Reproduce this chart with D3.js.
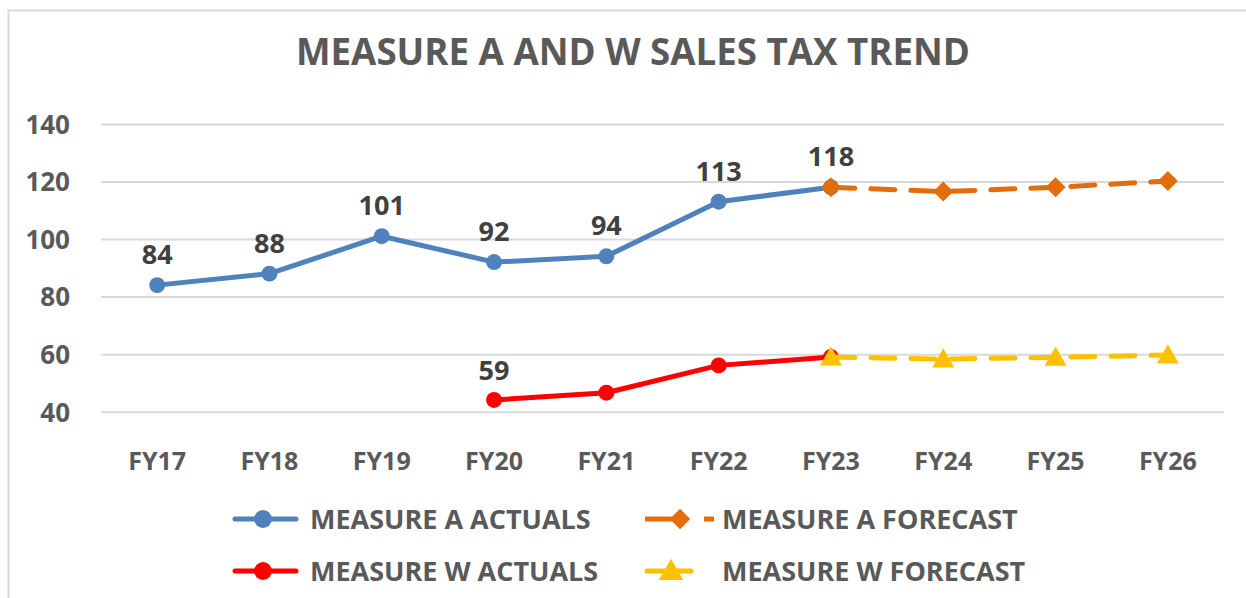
<!DOCTYPE html>
<html>
<head>
<meta charset="utf-8">
<script src="https://cdn.jsdelivr.net/npm/d3@7"></script>
<style>
  html, body { margin: 0; padding: 0; background: #fff; }
  svg { display: block; }
  text { font-family: "Open Sans", Lato, "Liberation Sans", sans-serif; font-weight: 700; }
</style>
</head>
<body>
<svg id="chart" width="1246" height="598"></svg>
<script>
// Fiscal years on the category axis
const years = ["FY17", "FY18", "FY19", "FY20", "FY21", "FY22", "FY23", "FY24", "FY25", "FY26"];
// Measure A (sales tax, $M)
const measureAActuals  = [84, 88, 101, 92, 94, 113, 118, null, null, null];
const measureAForecast = [null, null, null, null, null, null, 118, 116.5, 118, 120.2];
// Measure W (sales tax, $M)
const measureWActuals  = [null, null, null, 44.1, 46.6, 56.1, 59, null, null, null];
const measureWForecast = [null, null, null, null, null, null, 59, 58.3, 58.9, 59.7];
// Value labels: [year whose point the label sits above, value shown]
const aLabels = [["FY17", 84], ["FY18", 88], ["FY19", 101], ["FY20", 92], ["FY21", 94], ["FY22", 113], ["FY23", 118]];
const wLabels = [["FY20", 59]];
const yTicks = [40, 60, 80, 100, 120, 140];
const title = "MEASURE A AND W SALES TAX TREND";

const svg = d3.select("#chart");
const plot = { left: 101, right: 1224, top: 124, bottom: 411.7 };

// outer chart frame (top and left edges visible)
svg.append("path")
  .attr("d", "M8.5,598 V10.5 H1246")
  .attr("fill", "none").attr("stroke", "#d9d9d9").attr("stroke-width", 2);

const x = d3.scaleBand().domain(years).range([plot.left, plot.right]);
const xc = d => x(d) + x.bandwidth() / 2;
const y = d3.scaleLinear().domain([40, 140]).range([plot.bottom, plot.top]);

// title
svg.append("text")
  .attr("x", 296).attr("y", 65)
  .attr("font-size", 38)
  .attr("textLength", 674)
  .attr("lengthAdjust", "spacingAndGlyphs")
  .attr("fill", "#595959")
  .text(title);

// gridlines + value axis
const yAxis = d3.axisLeft(y).tickValues(yTicks).tickSize(-(plot.right - plot.left)).tickPadding(31);
const gy = svg.append("g").attr("transform", `translate(${plot.left},0)`).call(yAxis);
gy.select(".domain").remove();
gy.selectAll(".tick line").attr("stroke", "#d9d9d9").attr("stroke-width", 2);
gy.selectAll(".tick text")
  .attr("font-size", 26).attr("fill", "#595959")
  .attr("font-family", "\"Open Sans\", sans-serif").attr("font-weight", 700)
  .attr("dy", "0.36em");

// category axis labels
const xAxis = d3.axisBottom(x).tickSize(0).tickPadding(41);
const gx = svg.append("g").attr("transform", `translate(0,${plot.bottom})`).call(xAxis);
gx.select(".domain").remove();
gx.selectAll(".tick text")
  .attr("font-size", 25).attr("fill", "#595959")
  .attr("font-family", "\"Open Sans\", sans-serif").attr("font-weight", 700);

const series = [
  { name: "MEASURE A ACTUALS",  values: measureAActuals,  color: "#4f81bd", dash: null,    marker: "circle" },
  { name: "MEASURE A FORECAST", values: measureAForecast, color: "#e46c0a", dash: "24,16", marker: "diamond" },
  { name: "MEASURE W ACTUALS",  values: measureWActuals,  color: "#ff0000", dash: null,    marker: "circle" },
  { name: "MEASURE W FORECAST", values: measureWForecast, color: "#ffc000", dash: "24,16", marker: "triangle" }
];

const line = d3.line()
  .defined(d => d.v != null)
  .x(d => xc(d.k))
  .y(d => y(d.v));

// marker shapes: circle, square diamond (rotated square), triangle
function marker(g, type, size) {
  const sym = type === "circle" ? d3.symbolCircle : type === "diamond" ? d3.symbolSquare : d3.symbolTriangle;
  const p = g.append("path").attr("d", d3.symbol().type(sym).size(size)());
  if (type === "diamond") p.attr("transform", "rotate(45)");
  return p;
}
const sizeFor = m => m === "circle" ? 200 : m === "diamond" ? 200 : 210;

// draw actual lines before forecast so forecast markers sit on top at FY23
const order = [series[2], series[0], series[3], series[1]];
order.forEach(s => {
  const pts = years.map((k, i) => ({ k, v: s.values[i] }));
  svg.append("path")
    .datum(pts)
    .attr("d", line)
    .attr("fill", "none")
    .attr("stroke", s.color)
    .attr("stroke-width", 5)
    .attr("stroke-linecap", "round")
    .attr("stroke-linejoin", "round")
    .attr("stroke-dasharray", s.dash);
  pts.filter(d => d.v != null).forEach(d => {
    const g = svg.append("g")
      .attr("transform", `translate(${xc(d.k)},${y(d.v) + (s.marker === "triangle" ? 2 : 0)})`);
    marker(g, s.marker, sizeFor(s.marker)).attr("fill", s.color);
  });
});

// value labels for Measure A actuals
svg.append("g").selectAll("text")
  .data(aLabels)
  .join("text")
  .attr("x", d => xc(d[0]))
  .attr("y", d => y(measureAActuals[years.indexOf(d[0])]) - 21)
  .attr("text-anchor", "middle")
  .attr("font-size", 27)
  .attr("fill", "#404040")
  .text(d => d[1]);

// Measure W label
svg.append("g").selectAll("text")
  .data(wLabels)
  .join("text")
  .attr("x", d => xc(d[0]))
  .attr("y", d => y(measureWActuals[years.indexOf(d[0])]) - 20)
  .attr("text-anchor", "middle")
  .attr("font-size", 27)
  .attr("fill", "#404040")
  .text(d => d[1]);

// legend
const legendItems = [
  { s: series[0], lx: 233, ly: 519, tx: 310 },
  { s: series[1], lx: 645, ly: 519, tx: 722 },
  { s: series[2], lx: 233, ly: 571, tx: 310 },
  { s: series[3], lx: 645, ly: 571, tx: 722 }
];
legendItems.forEach(it => {
  const g = svg.append("g");
  const s = it.s;
  if (s.marker === "diamond") {
    g.append("line").attr("x1", it.lx).attr("x2", it.lx + 38).attr("y1", it.ly).attr("y2", it.ly)
      .attr("stroke", s.color).attr("stroke-width", 5);
    g.append("line").attr("x1", it.lx + 59).attr("x2", it.lx + 69).attr("y1", it.ly).attr("y2", it.ly)
      .attr("stroke", s.color).attr("stroke-width", 5);
    const mg = g.append("g").attr("transform", `translate(${it.lx + 35},${it.ly})`);
    marker(mg, "diamond", 210).attr("fill", s.color);
  } else {
    const tri = s.marker === "triangle";
    g.append("line").attr("x1", it.lx + 2).attr("x2", it.lx + (tri ? 46 : 63)).attr("y1", it.ly).attr("y2", it.ly)
      .attr("stroke", s.color).attr("stroke-width", 5).attr("stroke-linecap", "round");
    const mg = g.append("g").attr("transform", `translate(${tri ? it.lx + 26 : it.lx + 30},${it.ly + (tri ? 2 : 0)})`);
    marker(mg, s.marker, tri ? 260 : 250).attr("fill", s.color);
  }
  g.append("text").attr("x", it.tx).attr("y", it.ly).attr("dy", "0.36em")
    .attr("font-size", 27).attr("fill", "#595959").text(s.name);
});
</script>
</body>
</html>
